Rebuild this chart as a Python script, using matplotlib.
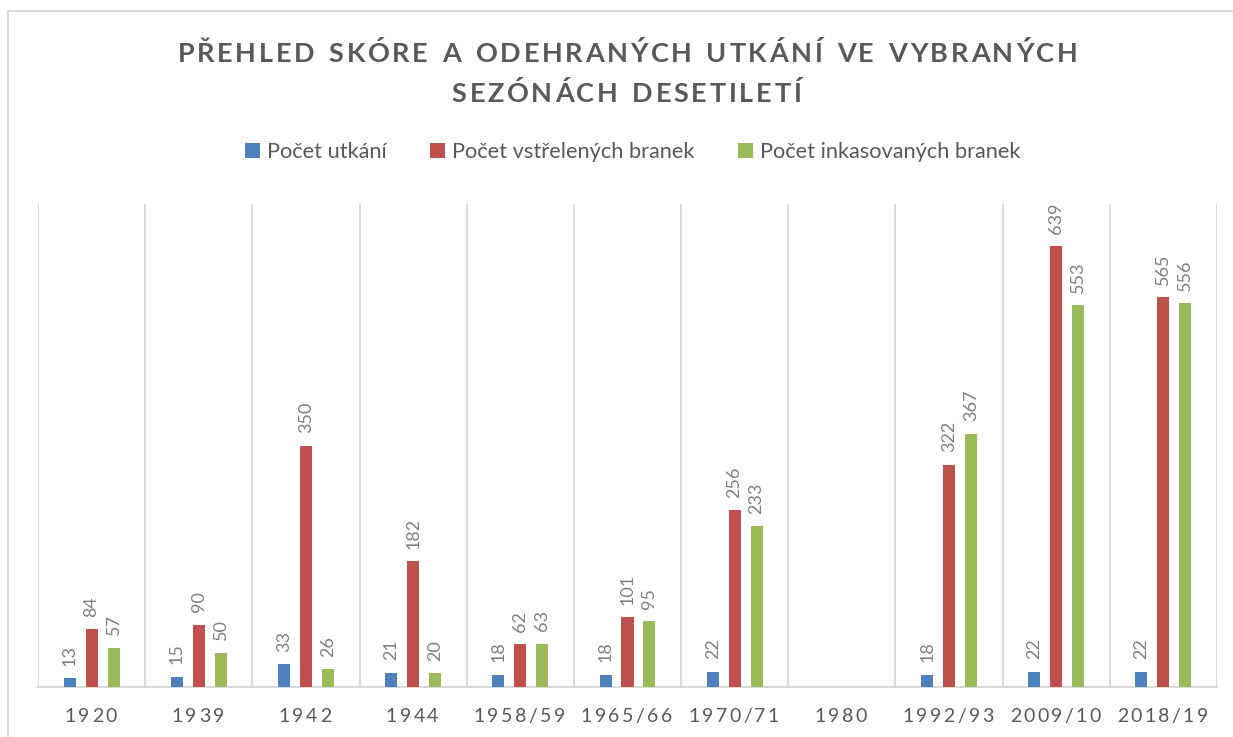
import matplotlib
matplotlib.use('Agg')
import matplotlib.pyplot as plt
import numpy as np
from matplotlib.patches import Rectangle
from matplotlib.font_manager import FontProperties, findfont, get_font

# data
seasons = ['1920', '1939', '1942', '1944', '1958/59', '1965/66', '1970/71',
           '1980', '1992/93', '2009/10', '2018/19']
matches = [13, 15, 33, 21, 18, 18, 22, np.nan, 18, 22, 22]
goals_for = [84, 90, 350, 182, 62, 101, 256, np.nan, 322, 639, 565]
goals_against = [57, 50, 26, 20, 63, 95, 233, np.nan, 367, 553, 556]
series_names = ['Počet utkání', 'Počet vstřelených branek', 'Počet inkasovaných branek']
colors = ['#4F81BD', '#C0504D', '#9BBB59']

title_lines = ['PŘEHLED SKÓRE A ODEHRANÝCH UTKÁNÍ VE VYBRANÝCH',
               'SEZÓNÁCH DESETILETÍ']

plt.rcParams['font.family'] = ['Lato', 'DejaVu Sans']

W, H = 1233, 737
fig = plt.figure(figsize=(W / 100, H / 100), dpi=100)
ax = fig.add_axes([38 / W, 50 / H, (1217 - 38) / W, (687 - 204) / H])


def tracked_text(s, xc, y_base, track, fontsize=10, fontweight='normal', word_gap=0, **kw):
    """Centred text at xc (px) with extra letter spacing; baseline at y_base (px from top)."""
    fp = FontProperties(family='Lato', weight=fontweight, size=fontsize)
    font = get_font(findfont(fp))
    font.set_size(fontsize, 100)
    adv = []
    for ch in s:
        g = font.load_char(ord(ch))
        a = g.linearHoriAdvance / 65536
        adv.append(a + word_gap if ch == ' ' else a)
    total = sum(adv) + track * (len(s) - 1)
    pen = xc - total / 2
    for ch, a in zip(s, adv):
        if ch != ' ':
            fig.text(pen / W, (H - y_base) / H, ch, ha='left', va='baseline',
                     fontsize=fontsize, fontweight=fontweight, **kw)
        pen += a + track


x = np.arange(len(seasons))
bw = 0.112
off = 0.205
for k, vals in enumerate([matches, goals_for, goals_against]):
    pos = x + (k - 1) * off
    ax.bar(pos, vals, width=bw, color=colors[k], label=series_names[k], zorder=3)
    for px, v in zip(pos, vals):
        if np.isnan(v):
            continue
        ax.annotate(f'{int(v)}', (px, v), xytext=(0, 9), textcoords='offset points',
                    rotation=90, ha='center', va='bottom', fontsize=13, color='#808080')

ax.set_xlim(-0.5, len(seasons) - 0.5)
ax.set_ylim(0, 700)
ax.set_xticks([])
ax.set_yticks([])
for s in ['top', 'right', 'left']:
    ax.spines[s].set_visible(False)
ax.spines['bottom'].set_color('#d9d9d9')
ax.spines['bottom'].set_linewidth(1.5)
for b in np.arange(-0.5, len(seasons), 1.0):
    ax.axvline(b, color='#d9d9d9', lw=1.3, zorder=1)

# category labels with letter spacing
for i, lab in enumerate(seasons):
    xc = ax.transData.transform((i, 0))[0]
    tracked_text(lab, xc - 1, 722, 2.4, fontsize=14, color='#595959')

# title
tracked_text(title_lines[0], W / 2 + 11, 62, 2.65, fontsize=19.5, fontweight='bold',
             word_gap=2.5, color='#595959')
tracked_text(title_lines[1], W / 2 + 10, 102, 2.65, fontsize=19.5, fontweight='bold',
             word_gap=2.5, color='#595959')

handles, labels = ax.get_legend_handles_labels()
fig.legend(handles, labels, loc='center', bbox_to_anchor=(0.5 + 16 / W, 1 - 152 / H), ncol=3,
           frameon=False, fontsize=15.7, handlelength=0.7, handleheight=0.7,
           handletextpad=0.3, columnspacing=2.0, labelcolor='#595959')

# outer chart border
fig.patches.append(Rectangle((8 / W, -0.1), 1.2, (H - 11) / H + 0.1, transform=fig.transFigure,
                             fill=False, edgecolor='#d9d9d9', lw=1.5))

fig.savefig('out.png', dpi=100)
